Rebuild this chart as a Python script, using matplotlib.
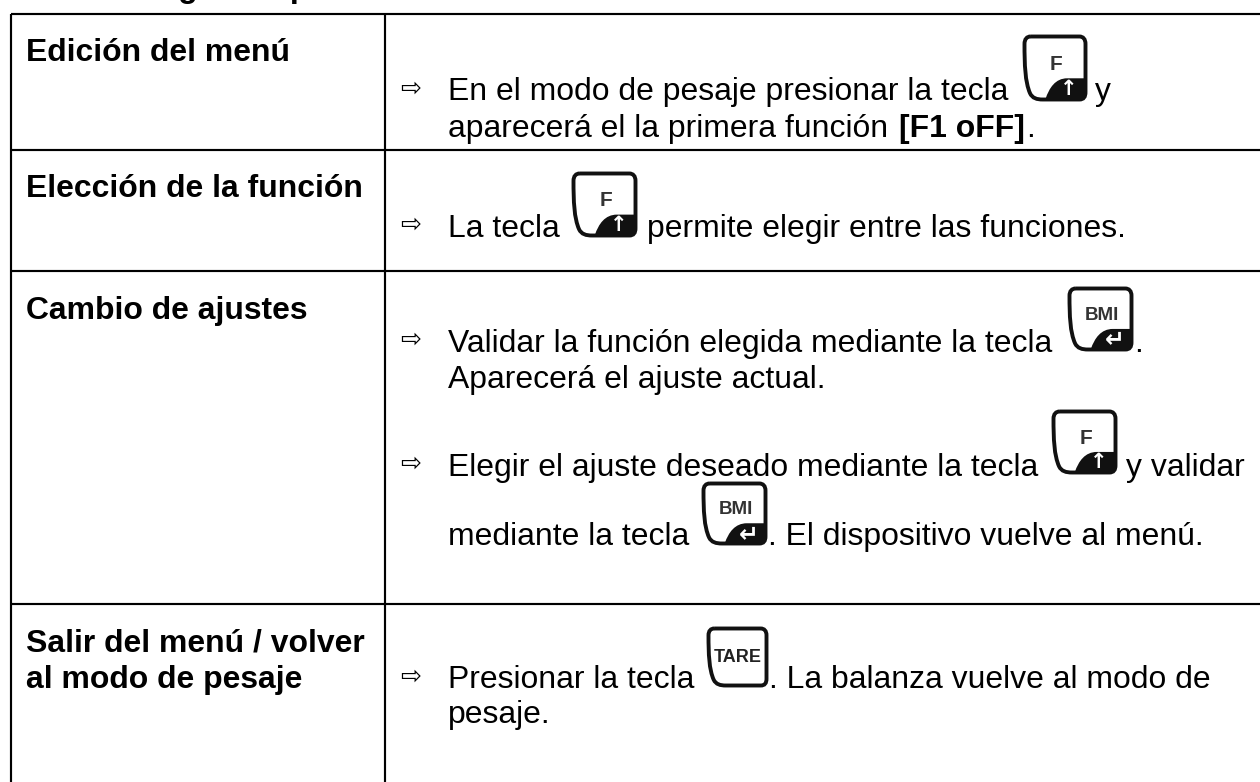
import matplotlib
matplotlib.use("Agg")
import matplotlib.pyplot as plt
from matplotlib.path import Path
from matplotlib.patches import PathPatch

W, H = 1260, 782
FS = 22.95
SANS = "Liberation Sans"

h_lines = [(11, 14), (11, 150), (11, 271), (11, 604)]
v_lines = [(11, 14, 782), (385, 14, 782)]

left_cells = [
    ("Edición del menú", 26, 61),
    ("Elección de la función", 26, 197),
    ("Cambio de ajustes", 26, 319),
    ("Salir del menú / volver", 26, 652),
    ("al modo de pesaje", 26, 688),
]
normal_text = [
    ("En el modo de pesaje presionar la tecla", 448, 100),
    ("y", 1095, 100),
    ("aparecerá el la primera función", 448, 137),
    (".", 1026, 137),
    ("La tecla", 448, 237),
    ("permite elegir entre las funciones.", 647, 237),
    ("Validar la función elegida mediante la tecla", 448, 352),
    (".", 1134, 352),
    ("Aparecerá el ajuste actual.", 448, 388),
    ("Elegir el ajuste deseado mediante la tecla", 448, 476),
    ("y validar", 1126, 476),
    ("mediante la tecla", 448, 545),
    (". El dispositivo vuelve al menú.", 768, 545),
    ("Presionar la tecla", 448, 688),
    (". La balanza vuelve al modo de", 769, 688),
    ("pesaje.", 448, 723),
]
bold_text = [("[F1 oFF]", 899, 137)]
heading = ("Navegación por el menú", 102, -2.5)
arrow_rows = [89, 225, 340, 464, 677]
keys = [
    ("F", 1023, 35, 1087, 101),
    ("F", 572, 172, 637, 237),
    ("BMI", 1068, 287, 1133, 351),
    ("F", 1052, 410, 1117, 474),
    ("BMI", 702, 482, 767, 545),
    ("TARE", 707, 627, 768, 687),
]

fig = plt.figure(figsize=(W / 100, H / 100), dpi=100, facecolor="white")
ax = fig.add_axes([0, 0, 1, 1])
ax.set_xlim(0, W)
ax.set_ylim(H, 0)
ax.axis("off")


def key_outline(x0, y0, x1, y1):
    w, h = x1 - x0, y1 - y0
    pts = [(0.10, 0.0), (0.04, 0.0), (0.0, 0.04), (0.0, 0.12),
           (0.0, 0.45), (0.01, 0.72), (0.09, 0.90),
           (0.13, 0.98), (0.20, 1.0), (0.30, 1.0),
           (0.90, 1.0), (0.97, 1.0), (1.0, 0.96), (1.0, 0.88),
           (1.0, 0.12), (1.0, 0.04), (0.96, 0.0), (0.90, 0.0),
           (0.10, 0.0)]
    codes = [Path.MOVETO, Path.CURVE4, Path.CURVE4, Path.CURVE4,
             Path.CURVE4, Path.CURVE4, Path.CURVE4,
             Path.CURVE4, Path.CURVE4, Path.CURVE4,
             Path.LINETO, Path.CURVE4, Path.CURVE4, Path.CURVE4,
             Path.LINETO, Path.CURVE4, Path.CURVE4, Path.CURVE4,
             Path.LINETO]
    return Path([(x0 + a * w, y0 + b * h) for a, b in pts], codes)


def key_corner(x0, y0, x1, y1):
    w, h = x1 - x0, y1 - y0
    pts = [(0.36, 1.0), (0.42, 0.82), (0.52, 0.68), (0.70, 0.68),
           (1.0, 0.68), (1.0, 0.90), (1.0, 0.96), (0.97, 1.0), (0.90, 1.0),
           (0.36, 1.0)]
    codes = [Path.MOVETO, Path.CURVE4, Path.CURVE4, Path.CURVE4,
             Path.LINETO, Path.LINETO, Path.CURVE4, Path.CURVE4, Path.CURVE4,
             Path.CLOSEPOLY]
    return Path([(x0 + a * w, y0 + b * h) for a, b in pts], codes)


for x, y in h_lines:
    ax.plot([x, W], [y, y], color="black", lw=1.55, solid_capstyle="butt")
for x, y0, y1 in v_lines:
    ax.plot([x, x], [y0, y1], color="black", lw=1.55, solid_capstyle="butt")

for s, x, y in left_cells + bold_text:
    ax.text(x, y, s, fontsize=FS, family=SANS, weight="bold", va="baseline", ha="left", color="black")
for s, x, y in normal_text:
    ax.text(x, y, s, fontsize=FS, family=SANS, va="baseline", ha="left", color="black")
for y in arrow_rows:
    ax.text(411, y, "\u21e8", fontsize=18, family="DejaVu Sans", va="center", ha="center", color="black")

# section heading, cut off by the top edge of the page
ax.text(heading[1], heading[2], heading[0], fontsize=FS, family=SANS, weight="bold",
        va="baseline", ha="left", color="black", clip_on=True)

for label, x0, y0, x1, y1 in keys:
    ax.add_patch(PathPatch(key_outline(x0 + 1.5, y0 + 1.5, x1 - 1.5, y1 - 1.5),
                           facecolor="white", edgecolor="#111111", lw=2.8))
    w, h = x1 - x0, y1 - y0
    if label == "TARE":
        ax.text(x0 + 0.5 * w, y0 + 0.50 * h, label, fontsize=13, family=SANS, weight="bold",
                color="#222222", ha="center", va="center")
        continue
    ax.add_patch(PathPatch(key_corner(x0 + 1.5, y0 + 1.5, x1 - 1.5, y1 - 1.5),
                           facecolor="#111111", edgecolor="#111111", lw=1.5))
    ax.text(x0 + 0.52 * w, y0 + 0.44 * h, label,
            fontsize=15 if label == "F" else 13.5, family=SANS, weight="bold",
            color="#333333", ha="center", va="center")
    ax.text(x0 + 0.72 * w, y0 + 0.82 * h, "\u2191" if label == "F" else "\u21b5",
            fontsize=15 if label == "F" else 17, family="DejaVu Sans", weight="bold",
            color="white", ha="center", va="center")

fig.savefig("out.png", dpi=100)
